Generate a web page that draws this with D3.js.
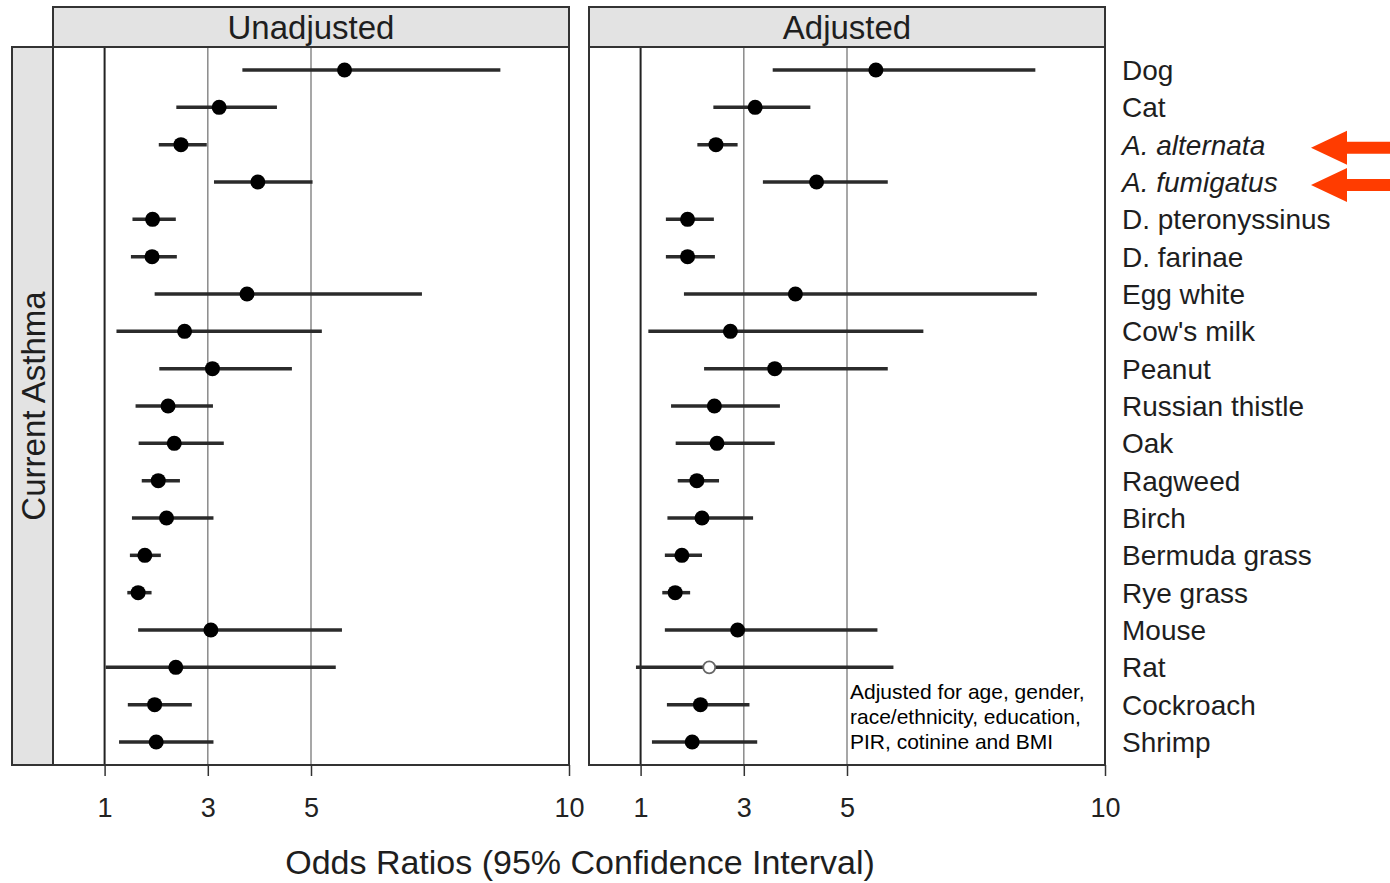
<!DOCTYPE html>
<html>
<head>
<meta charset="utf-8">
<script src="https://cdn.jsdelivr.net/npm/d3@7"></script>
<style>
  body { margin: 0; background: #fff; }
  text { font-family: "Liberation Sans", Arial, sans-serif; }
</style>
</head>
<body>
<div id="chart"></div>
<script>
// allergen rows, top to bottom
const allergens = ["Dog", "Cat", "A. alternata", "A. fumigatus", "D. pteronyssinus", "D. farinae",
  "Egg white", "Cow's milk", "Peanut", "Russian thistle", "Oak", "Ragweed", "Birch",
  "Bermuda grass", "Rye grass", "Mouse", "Rat", "Cockroach", "Shrimp"];
const italicRows = ["A. alternata", "A. fumigatus"];
const flagged = ["A. alternata", "A. fumigatus"];

// unadjusted odds ratios and 95% CI
const unadjOR = [5.65, 3.22, 2.48, 3.97, 1.93, 1.92, 3.76, 2.55, 3.09, 2.23, 2.35, 2.04, 2.20, 1.78, 1.65, 3.06, 2.38, 1.97, 2.00];
const unadjLo = [3.67, 2.39, 2.05, 3.12, 1.54, 1.51, 1.97, 1.23, 2.06, 1.60, 1.66, 1.72, 1.53, 1.49, 1.44, 1.65, 1.02, 1.45, 1.28];
const unadjHi = [8.67, 4.34, 2.98, 5.03, 2.38, 2.40, 7.15, 5.21, 4.63, 3.10, 3.31, 2.46, 3.11, 2.09, 1.91, 5.60, 5.48, 2.69, 3.11];

// adjusted odds ratios and 95% CI
const adjOR = [5.56, 3.22, 2.46, 4.41, 1.91, 1.91, 4.00, 2.74, 3.60, 2.43, 2.48, 2.09, 2.19, 1.80, 1.67, 2.88, 2.33, 2.16, 2.00];
const adjLo = [3.56, 2.41, 2.10, 3.37, 1.49, 1.49, 1.84, 1.15, 2.23, 1.59, 1.68, 1.72, 1.52, 1.47, 1.42, 1.47, 0.91, 1.51, 1.22];
const adjHi = [8.65, 4.29, 2.88, 5.79, 2.42, 2.44, 8.68, 6.48, 5.79, 3.70, 3.60, 2.52, 3.18, 2.19, 1.96, 5.59, 5.90, 3.11, 3.26];

const panelNames = ["Unadjusted", "Adjusted"];
const tickVals = [1, 3, 5, 10];
const refLines = [1, 3, 5];
const note = ["Adjusted for age, gender,", "race/ethnicity, education,", "PIR, cotinine and BMI"];

const width = 1390, height = 883;
const panelTop = 47, panelBottom = 765, stripTop = 7;
const panelW = 516;
const panelX = [53, 589];

const svg = d3.select("#chart")
  .append("svg")
  .attr("width", width)
  .attr("height", height);

const x = d3.scaleLinear().domain([0, 10]).range([0, panelW]);
const y = d3.scalePoint().domain(allergens).range([70, 742]);

const panels = [
  allergens.map((a, i) => ({ name: a, or: unadjOR[i], lo: unadjLo[i], hi: unadjHi[i] })),
  allergens.map((a, i) => ({ name: a, or: adjOR[i], lo: adjLo[i], hi: adjHi[i] }))
];

panels.forEach((rows, p) => {
  const g = svg.append("g").attr("transform", `translate(${panelX[p]},0)`);

  // strip on top
  g.append("rect")
    .attr("x", 0).attr("y", stripTop)
    .attr("width", panelW).attr("height", panelTop - stripTop)
    .attr("fill", "#e3e3e3").attr("stroke", "#333").attr("stroke-width", 2);
  g.append("text")
    .attr("x", panelW / 2).attr("y", 39)
    .attr("text-anchor", "middle")
    .attr("font-size", 33)
    .attr("fill", "#1e1e1e")
    .text(panelNames[p]);

  g.append("rect")
    .attr("x", 0).attr("y", panelTop)
    .attr("width", panelW).attr("height", panelBottom - panelTop)
    .attr("fill", "#fff");

  // reference lines
  g.selectAll(".ref")
    .data(refLines)
    .enter()
    .append("line")
    .attr("x1", d => x(d)).attr("x2", d => x(d))
    .attr("y1", panelTop).attr("y2", panelBottom)
    .attr("stroke", d => d === 1 ? "#222" : "#8a8a8a")
    .attr("stroke-width", d => d === 1 ? 2 : 1.5);

  // confidence intervals
  g.selectAll(".ci")
    .data(rows)
    .enter()
    .append("line")
    .attr("x1", d => x(d.lo)).attr("x2", d => x(d.hi))
    .attr("y1", d => y(d.name)).attr("y2", d => y(d.name))
    .attr("stroke", "#2b2b2b")
    .attr("stroke-width", 3.5);

  // point estimates; lower CI under 1 drawn as open circle
  g.selectAll(".pt")
    .data(rows)
    .enter()
    .append("circle")
    .attr("cx", d => x(d.or))
    .attr("cy", d => y(d.name))
    .attr("r", d => d.lo < 1 ? 6 : 7.5)
    .attr("fill", d => d.lo < 1 ? "#fff" : "#000")
    .attr("stroke", d => d.lo < 1 ? "#666" : "none")
    .attr("stroke-width", 1.8);

  g.append("rect")
    .attr("x", 0).attr("y", panelTop)
    .attr("width", panelW).attr("height", panelBottom - panelTop)
    .attr("fill", "none").attr("stroke", "#333").attr("stroke-width", 2);

  const axis = g.append("g")
    .attr("transform", `translate(0,${panelBottom})`)
    .call(d3.axisBottom(x).tickValues(tickVals).tickSize(11).tickPadding(22));
  axis.select(".domain").remove();
  axis.selectAll("line").attr("stroke", "#333").attr("stroke-width", 1.5);
  axis.selectAll("text")
    .attr("font-size", 27)
    .attr("fill", "#222")
    .attr("font-family", "'Liberation Sans', Arial, sans-serif");
});

// left strip
svg.append("rect")
  .attr("x", 12).attr("y", panelTop)
  .attr("width", panelX[0] - 12).attr("height", panelBottom - panelTop)
  .attr("fill", "#e3e3e3").attr("stroke", "#333").attr("stroke-width", 2);
svg.append("text")
  .attr("transform", `translate(45,${(panelTop + panelBottom) / 2}) rotate(-90)`)
  .attr("text-anchor", "middle")
  .attr("font-size", 33)
  .attr("fill", "#1e1e1e")
  .text("Current Asthma");

// row labels on the right
svg.selectAll(".rowlab")
  .data(allergens)
  .enter()
  .append("text")
  .attr("x", 1122)
  .attr("y", d => y(d))
  .attr("dy", "0.36em")
  .attr("font-size", 28)
  .attr("font-style", d => italicRows.includes(d) ? "italic" : "normal")
  .attr("fill", "#1e1e1e")
  .text(d => d);

// red arrows
svg.selectAll(".arrow")
  .data(flagged)
  .enter()
  .append("path")
  .attr("transform", d => `translate(1311,${y(d) + 3})`)
  .attr("d", "M0,0 L36,-17 L36,-6 L79,-6 L79,6 L36,6 L36,17 Z")
  .attr("fill", "#ff3c00");

// x axis title
svg.append("text")
  .attr("x", 580).attr("y", 874)
  .attr("text-anchor", "middle")
  .attr("font-size", 34)
  .attr("fill", "#1e1e1e")
  .text("Odds Ratios (95% Confidence Interval)");

// note in adjusted panel
svg.append("g")
  .selectAll("text")
  .data(note)
  .enter()
  .append("text")
  .attr("x", 850)
  .attr("y", (d, i) => 699 + i * 25)
  .attr("font-size", 21)
  .attr("fill", "#000")
  .text(d => d);
</script>
</body>
</html>
